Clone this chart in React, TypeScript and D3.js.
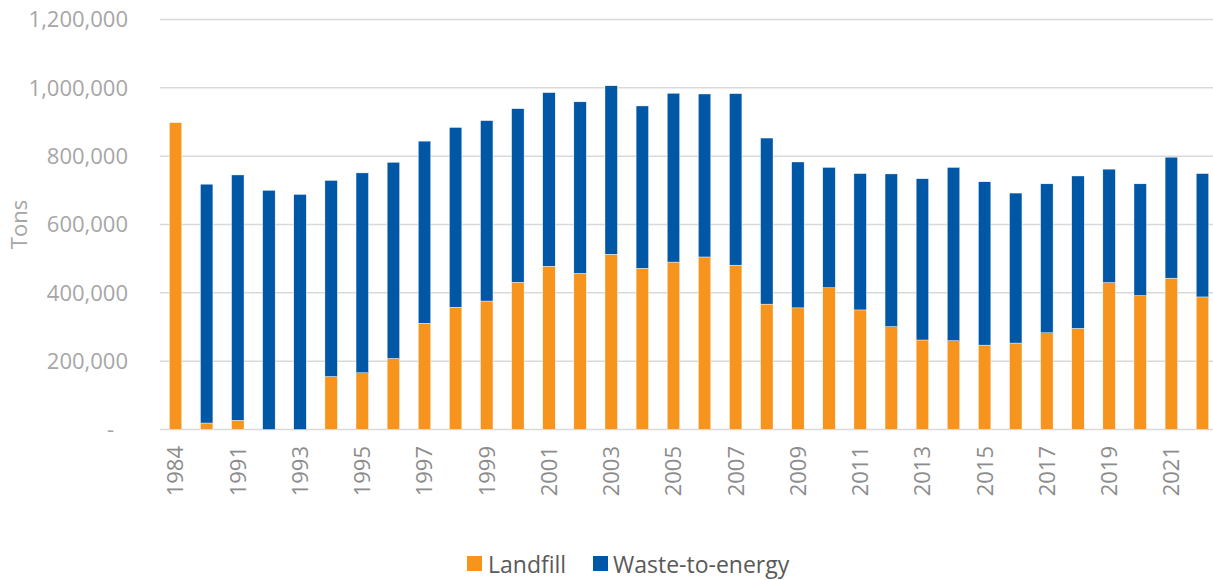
import React from "react";
import * as d3 from "d3";

const years = ["1984","1990","1991","1992","1993","1994","1995","1996","1997","1998","1999","2000","2001","2002","2003","2004","2005","2006","2007","2008","2009","2010","2011","2012","2013","2014","2015","2016","2017","2018","2019","2020","2021","2022"];
const landfill = [898000,19000,27000,0,0,155000,166000,208000,311000,358000,376000,431000,478000,457000,513000,472000,490000,505000,481000,367000,356000,415000,350000,301000,262000,260000,247000,253000,283000,296000,430000,392000,443000,388000];
const wasteToEnergy = [0,699000,718000,700000,688000,574000,585000,574000,533000,526000,528000,508000,508000,502000,493000,475000,494000,477000,502000,486000,427000,352000,399000,447000,472000,507000,478000,439000,436000,446000,332000,327000,354000,361000];
const yTicks = [0,200000,400000,600000,800000,1000000,1200000];
const xLabelYears = ["1984","1991","1993","1995","1997","1999","2001","2003","2005","2007","2009","2011","2013","2015","2017","2019","2021"];
const seriesNames = ["Landfill","Waste-to-energy"];

const W = 1213, H = 580;
const left = 160, right = 1218, top = 19.5, bottom = 429.5;
const ORANGE = "#F7941E";
const BLUE = "#0057A5";
const TICK = "#A6A6A6";
const XTICK = "#8C8C8C";
const FONT = "'Open Sans', 'Noto Sans', sans-serif";

export default function App() {
  const x = d3.scaleBand<string>().domain(years).range([left, right]).paddingInner(0.6).paddingOuter(0.3);
  const y = d3.scaleLinear().domain([0, 1200000]).range([bottom, top]);
  const fmt = d3.format(",");
  const data = years.map((yr, i) => ({ yr, l: landfill[i], w: wasteToEnergy[i] }));
  return (
    <svg width={W} height={H} style={{ position: "absolute", left: 0, top: 0, background: "#fff" }} fontFamily={FONT}>
      {yTicks.map((t) => (
        <g key={t}>
          <line x1={left} x2={W} y1={y(t)} y2={y(t)} stroke="#D9D9D9" strokeWidth={1.5} />
          <text x={t === 0 ? 114 : 128} y={y(t)} dy="0.36em" textAnchor="end" fontSize={22} fill={TICK}>
            {t === 0 ? "-" : fmt(t)}
          </text>
        </g>
      ))}
      {data.map((d) => {
        const bx = x(d.yr)!;
        const bw = x.bandwidth();
        return (
          <g key={d.yr}>
            {d.l > 0 && (
              <rect x={bx} width={bw} y={y(d.l)} height={y(0) - y(d.l)} fill={ORANGE} stroke="#fff" strokeWidth={0.4} />
            )}
            {d.w > 0 && (
              <rect x={bx} width={bw} y={y(d.l + d.w)} height={y(d.l) - y(d.l + d.w)} fill={BLUE} stroke="#fff" strokeWidth={0.4} />
            )}
          </g>
        );
      })}
      {xLabelYears.map((yr) => {
        const cx = x(yr)! + x.bandwidth() / 2;
        return (
          <text key={yr} transform={`translate(${cx},446) rotate(-90)`} dy="0.36em" textAnchor="end" fontSize={22} fill={XTICK}>
            {yr}
          </text>
        );
      })}
      <text transform={`translate(27,${(top + bottom) / 2}) rotate(-90)`} textAnchor="middle" fontSize={22} fill={TICK}>
        Tons
      </text>
      <g>
        <rect x={467} y={556} width={15} height={15} fill={ORANGE} />
        <text x={488} y={573} fontSize={23} fill="#595959">{seriesNames[0]}</text>
        <rect x={593} y={556} width={15} height={15} fill={BLUE} />
        <text x={613} y={573} fontSize={23} fill="#595959">{seriesNames[1]}</text>
      </g>
    </svg>
  );
}
